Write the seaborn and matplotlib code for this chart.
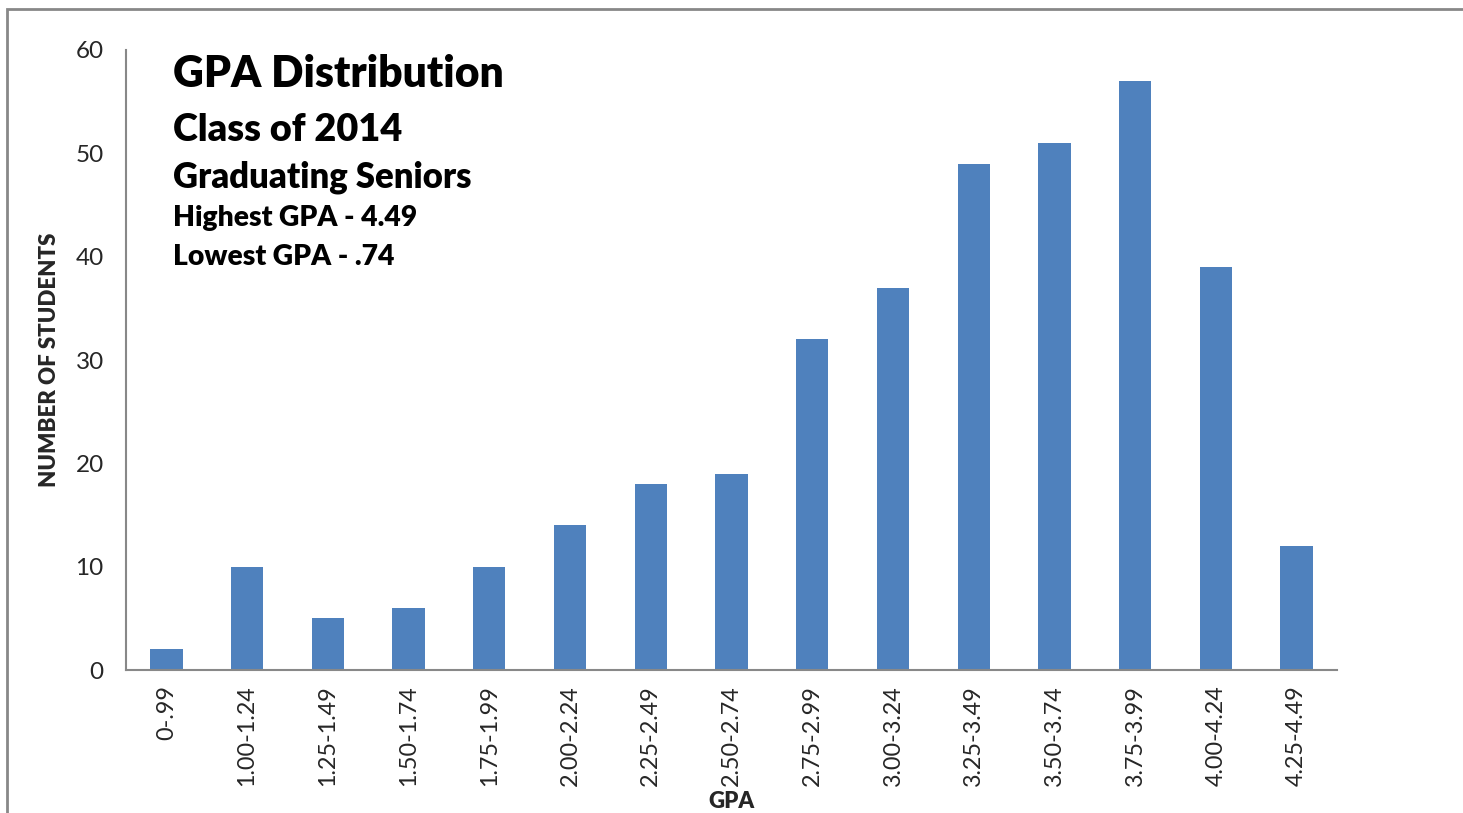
import matplotlib
matplotlib.use("Agg")
import matplotlib.pyplot as plt
import seaborn as sns
import pandas as pd
from matplotlib.patches import Rectangle

categories = ["0-.99", "1.00-1.24", "1.25-1.49", "1.50-1.74", "1.75-1.99", "2.00-2.24",
              "2.25-2.49", "2.50-2.74", "2.75-2.99", "3.00-3.24", "3.25-3.49", "3.50-3.74",
              "3.75-3.99", "4.00-4.24", "4.25-4.49"]
students = [2, 10, 5, 6, 10, 14, 18, 19, 32, 37, 49, 51, 57, 39, 12]
y_ticks = [0, 10, 20, 30, 40, 50, 60]
title_lines = ["GPA Distribution", "Class of 2014", "Graduating Seniors",
               "Highest GPA - 4.49", "Lowest GPA - .74"]

sns.set_theme(style="white")
plt.rcParams['font.family'] = ['Lato', 'DejaVu Sans']

df = pd.DataFrame({"GPA": categories, "Students": students})

W, H = 1463, 813
fig = plt.figure(figsize=(W / 100, H / 100), dpi=100)
ax = fig.add_axes([126 / W, 1 - 670 / H, (1337 - 126) / W, (670 - 50) / H])

sns.barplot(data=df, x="GPA", y="Students", color="#4F81BD", width=0.4,
            saturation=1, ax=ax, linewidth=0)

ax.set_xlim(-0.5, len(categories) - 0.5)
ax.set_ylim(0, 60)
ax.set_yticks(y_ticks)
ax.set_yticklabels([str(t) for t in y_ticks], fontsize=17.5)
ax.set_xticks(range(len(categories)))
ax.set_xticklabels(categories, rotation=90, fontsize=16.8, va="top")
ax.tick_params(axis="x", length=0, pad=11)
ax.set_xticks([i - 0.5 for i in range(len(categories) + 1)], minor=True)
ax.tick_params(axis="x", which="minor", length=6, width=1.2, color="#888888", direction="out")
ax.tick_params(axis="y", length=6, width=1.2, color="#888888", direction="out", pad=10)
ax.tick_params(axis="y", which="minor", length=0)

for s in ["top", "right"]:
    ax.spines[s].set_visible(False)
for s in ["left", "bottom"]:
    ax.spines[s].set_color("#888888")
    ax.spines[s].set_linewidth(1.5)

ax.set_xlabel("GPA", fontsize=16, fontweight="heavy")
ax.xaxis.set_label_coords(0.5, (670 - 791) / 620)
ax.set_ylabel("NUMBER OF STUDENTS", fontsize=16, fontweight="heavy")
ax.yaxis.set_label_coords((60 - 126) / 1211, 0.5)

sizes = [30.7, 27.3, 24.9, 20.3, 20.3]
baselines = [87, 141, 187, 226, 265]
for txt, fs, yb in zip(title_lines, sizes, baselines):
    fig.text(173 / W, 1 - yb / H, txt, fontsize=fs, fontweight="heavy",
             ha="left", va="baseline", color="black")

fig.patches.append(Rectangle((7 / W, -0.1), 1.2, 1 - 9 / H + 0.1, transform=fig.transFigure,
                             fill=False, edgecolor="#888888", linewidth=2, zorder=10))

fig.savefig("out.png", dpi=100)
